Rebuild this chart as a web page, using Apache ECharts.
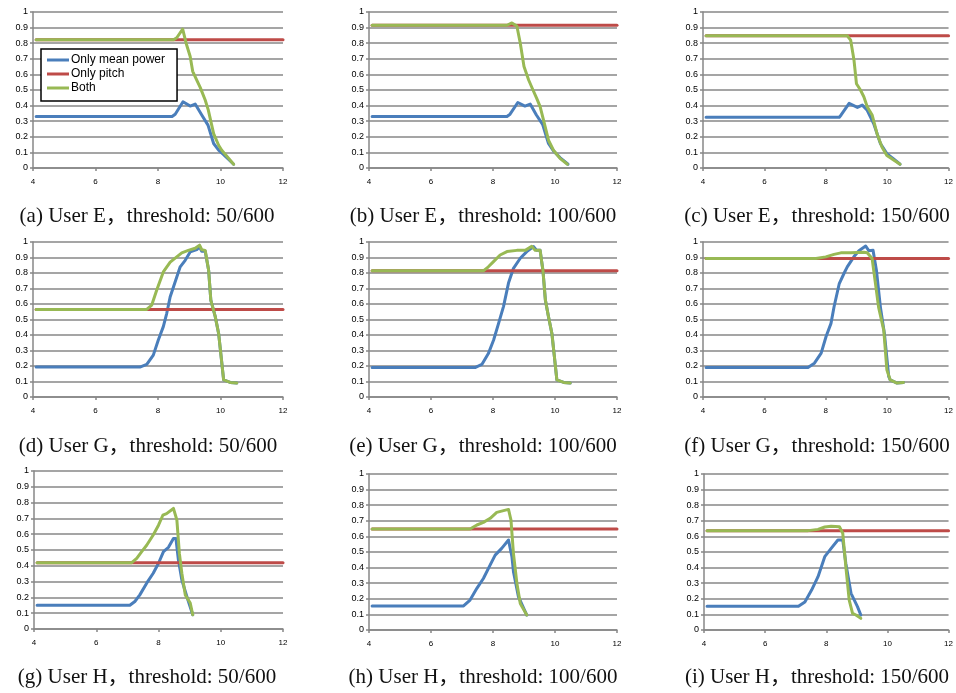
<!DOCTYPE html>
<html><head><meta charset="utf-8">
<script src="https://cdn.jsdelivr.net/npm/echarts@6/dist/echarts.min.js"></script>
<style>html,body{margin:0;padding:0;background:#fff}#c{width:956px;height:693px}</style>
</head><body><div id="c"></div>
<script>
const seriesNames = ['Only mean power', 'Only pitch', 'Both'];
const captions = [
  '(a) User E\uFF0Cthreshold: 50/600', '(b) User E\uFF0Cthreshold: 100/600', '(c) User E\uFF0Cthreshold: 150/600',
  '(d) User G\uFF0Cthreshold: 50/600', '(e) User G\uFF0Cthreshold: 100/600', '(f) User G\uFF0Cthreshold: 150/600',
  '(g) User H\uFF0Cthreshold: 50/600', '(h) User H\uFF0Cthreshold: 100/600', '(i) User H\uFF0Cthreshold: 150/600'
];
const xTicks = [4, 6, 8, 10, 12];

// (a) User E, 50/600
const aPower = [[4.1,0.33],[8.45,0.33],[8.55,0.345],[8.8,0.425],[9.03,0.397],[9.19,0.41],[9.4,0.34],[9.6,0.275],[9.78,0.157],[9.94,0.114],[10.1,0.085],[10.42,0.024]];
const aPitch = [[4.1,0.822],[12,0.822]];
const aBoth  = [[4.1,0.822],[8.5,0.822],[8.6,0.835],[8.79,0.89],[8.9,0.8],[9.03,0.715],[9.11,0.62],[9.24,0.564],[9.35,0.517],[9.51,0.436],[9.61,0.371],[9.78,0.22],[9.94,0.146],[10.04,0.114],[10.42,0.024]];
// (b) User E, 100/600
const bPower = [[4.1,0.33],[8.45,0.33],[8.55,0.345],[8.8,0.42],[9.03,0.397],[9.2,0.41],[9.4,0.34],[9.6,0.28],[9.79,0.157],[9.95,0.11],[10.17,0.065],[10.42,0.024]];
const bPitch = [[4.1,0.915],[12,0.915]];
const bBoth  = [[4.1,0.915],[8.45,0.915],[8.61,0.93],[8.77,0.91],[8.88,0.8],[9.0,0.65],[9.15,0.564],[9.29,0.5],[9.41,0.446],[9.52,0.393],[9.63,0.307],[9.79,0.178],[9.95,0.114],[10.17,0.06],[10.4,0.024]];
// (c) User E, 150/600
const cPower = [[4.1,0.325],[8.44,0.325],[8.5,0.34],[8.76,0.414],[9.03,0.388],[9.19,0.403],[9.35,0.37],[9.56,0.285],[9.78,0.157],[9.99,0.092],[10.2,0.06],[10.42,0.024]];
const cPitch = [[4.1,0.848],[12,0.848]];
const cBoth  = [[4.1,0.848],[8.7,0.848],[8.81,0.82],[8.92,0.69],[9.0,0.54],[9.13,0.5],[9.24,0.457],[9.35,0.393],[9.51,0.34],[9.67,0.22],[9.83,0.135],[9.99,0.08],[10.15,0.06],[10.42,0.024]];
// (d) User G, 50/600
const dPower = [[4.1,0.193],[7.42,0.193],[7.64,0.21],[7.85,0.27],[8.01,0.368],[8.17,0.454],[8.28,0.54],[8.39,0.647],[8.55,0.743],[8.71,0.84],[8.87,0.882],[9.03,0.936],[9.24,0.951],[9.33,0.968],[9.4,0.94],[9.51,0.94],[9.62,0.818],[9.69,0.625],[9.83,0.52],[9.94,0.41],[10.1,0.11],[10.31,0.094],[10.52,0.09]];
const dPitch = [[4.1,0.565],[12,0.565]];
const dBoth  = [[4.1,0.565],[7.64,0.565],[7.8,0.593],[7.96,0.69],[8.17,0.807],[8.39,0.87],[8.6,0.904],[8.76,0.93],[8.97,0.946],[9.19,0.96],[9.33,0.98],[9.4,0.95],[9.51,0.946],[9.62,0.818],[9.69,0.625],[9.83,0.52],[9.94,0.41],[10.1,0.11],[10.31,0.094],[10.52,0.09]];
// (e) User G, 100/600
const ePower = [[4.1,0.19],[7.42,0.19],[7.64,0.21],[7.85,0.28],[8.02,0.368],[8.18,0.475],[8.34,0.585],[8.5,0.735],[8.66,0.83],[8.88,0.895],[9.09,0.938],[9.31,0.97],[9.41,0.946],[9.52,0.946],[9.61,0.818],[9.69,0.625],[9.79,0.518],[9.9,0.41],[10.06,0.11],[10.28,0.094],[10.49,0.09]];
const ePitch = [[4.1,0.814],[12,0.814]];
const eBoth  = [[4.1,0.814],[7.69,0.814],[7.85,0.84],[8.0,0.87],[8.23,0.916],[8.45,0.938],[8.77,0.946],[9.04,0.946],[9.25,0.972],[9.36,0.946],[9.52,0.946],[9.61,0.818],[9.69,0.625],[9.79,0.518],[9.9,0.41],[10.06,0.11],[10.28,0.094],[10.49,0.09]];
// (f) User G, 150/600
const fPower = [[4.1,0.19],[7.42,0.19],[7.63,0.218],[7.85,0.283],[8.01,0.39],[8.17,0.475],[8.27,0.582],[8.44,0.732],[8.6,0.8],[8.7,0.84],[8.92,0.906],[9.08,0.944],[9.3,0.974],[9.4,0.944],[9.54,0.946],[9.65,0.818],[9.78,0.58],[9.91,0.41],[10.05,0.133],[10.1,0.11],[10.32,0.09],[10.53,0.094]];
const fPitch = [[4.1,0.893],[12,0.893]];
const fBoth  = [[4.1,0.893],[7.68,0.893],[8.0,0.904],[8.27,0.92],[8.49,0.93],[8.81,0.93],[9.24,0.934],[9.35,0.93],[9.51,0.893],[9.62,0.73],[9.72,0.58],[9.89,0.43],[9.99,0.176],[10.1,0.11],[10.32,0.09],[10.53,0.094]];
// (g) User H, 50/600
const gPower = [[4.1,0.15],[7.08,0.15],[7.24,0.174],[7.4,0.216],[7.62,0.29],[7.83,0.353],[8.0,0.416],[8.16,0.49],[8.32,0.517],[8.48,0.573],[8.56,0.573],[8.64,0.437],[8.75,0.31],[8.91,0.206],[9.1,0.09]];
const gPitch = [[4.1,0.42],[12,0.42]];
const gBoth  = [[4.1,0.42],[7.14,0.42],[7.3,0.447],[7.46,0.49],[7.62,0.53],[7.83,0.595],[8.0,0.657],[8.14,0.72],[8.26,0.73],[8.48,0.763],[8.59,0.69],[8.67,0.48],[8.75,0.353],[8.86,0.216],[9.02,0.164],[9.1,0.09]];
// (h) User H, 100/600
const hPower = [[4.1,0.154],[7.05,0.154],[7.26,0.192],[7.48,0.267],[7.69,0.33],[7.91,0.417],[8.07,0.48],[8.28,0.523],[8.5,0.577],[8.61,0.47],[8.66,0.374],[8.82,0.214],[9.09,0.096]];
const hPitch = [[4.1,0.647],[12,0.647]];
const hBoth  = [[4.1,0.647],[7.26,0.647],[7.48,0.673],[7.69,0.69],[7.91,0.716],[8.12,0.754],[8.34,0.765],[8.5,0.773],[8.58,0.705],[8.66,0.49],[8.77,0.3],[8.88,0.17],[9.09,0.096]];
// (i) User H, 150/600
const iPower = [[4.1,0.152],[7.09,0.152],[7.3,0.18],[7.52,0.256],[7.73,0.342],[7.95,0.47],[8.16,0.523],[8.38,0.577],[8.54,0.577],[8.64,0.427],[8.81,0.235],[9.02,0.15],[9.13,0.096]];
const iPitch = [[4.1,0.637],[12,0.637]];
const iBoth  = [[4.1,0.637],[7.41,0.637],[7.73,0.645],[7.95,0.66],[8.16,0.665],[8.43,0.662],[8.54,0.62],[8.64,0.406],[8.75,0.192],[8.86,0.107],[8.97,0.096],[9.13,0.075]];

const panels = [
  [aPower, aPitch, aBoth], [bPower, bPitch, bBoth], [cPower, cPitch, cBoth],
  [dPower, dPitch, dBoth], [ePower, ePitch, eBoth], [fPower, fPitch, fBoth],
  [gPower, gPitch, gBoth], [hPower, hPitch, hBoth], [iPower, iPitch, iBoth]
];

const colors = ['#4a7ebb', '#be4b48', '#98b954'];
const grids = [
  {left: 33, top: 12, width: 250, height: 156},
  {left: 369, top: 12, width: 248, height: 156},
  {left: 703, top: 12, width: 249, height: 156},
  {left: 33, top: 242, width: 250, height: 155},
  {left: 369, top: 242, width: 248, height: 155},
  {left: 703, top: 242, width: 249, height: 155},
  {left: 34, top: 471, width: 249, height: 158},
  {left: 369, top: 474, width: 248, height: 156},
  {left: 704, top: 474, width: 248, height: 156}
];
const capPos = [
  [147, 216], [483, 216], [817, 216],
  [148, 446], [483, 446], [817, 446],
  [147, 677], [483, 677], [817, 677]
];
const gray = '#878787';

const option = {
  backgroundColor: '#fff',
  animation: false,
  color: colors,
  title: captions.map((t, i) => ({
    text: t, left: capPos[i][0], top: capPos[i][1], textAlign: 'center', textVerticalAlign: 'middle',
    padding: 0,
    textStyle: {fontFamily: '"Liberation Serif", "Noto Sans CJK SC", serif', fontSize: 21, fontWeight: 'normal', color: '#111'}
  })),
  legend: {
    data: seriesNames, left: 41, top: 49, orient: 'vertical',
    backgroundColor: '#fff', borderColor: '#000', borderWidth: 1.5,
    padding: [5, 12, 7, 6], itemGap: 2, itemWidth: 22, itemHeight: 3, icon: 'rect',
    textStyle: {fontFamily: '"Liberation Sans", Arial, sans-serif', fontSize: 12, lineHeight: 12, color: '#000', padding: [0, 0, 0, -3]},
    z: 10
  },
  grid: grids,
  xAxis: grids.map((g, i) => ({
    type: 'value', gridIndex: i, min: xTicks[0], max: xTicks[xTicks.length - 1], interval: 2,
    axisLine: {lineStyle: {color: gray, width: 1.5}},
    axisTick: {show: true, length: 3, lineStyle: {color: gray, width: 1.5}},
    axisLabel: {fontSize: 8, color: '#000', margin: 10, fontFamily: '"Liberation Sans", Arial, sans-serif'},
    splitLine: {show: false}
  })),
  yAxis: grids.map((g, i) => ({
    type: 'value', gridIndex: i, min: 0, max: 1, interval: 0.1,
    axisLine: {show: true, lineStyle: {color: gray, width: 1.5}},
    axisTick: {show: true, length: 3, lineStyle: {color: gray, width: 1.5}},
    axisLabel: {fontSize: 9, color: '#000', margin: 5, fontFamily: '"Liberation Sans", Arial, sans-serif'},
    splitLine: {show: true, lineStyle: {color: gray, width: 1.5}}
  })),
  series: []
};
panels.forEach((p, i) => {
  p.forEach((d, k) => {
    option.series.push({
      name: seriesNames[k], type: 'line', xAxisIndex: i, yAxisIndex: i,
      data: d, showSymbol: false, symbol: 'none', smooth: false,
      lineStyle: {color: colors[k], width: 3, join: 'round', cap: 'round'},
      itemStyle: {color: colors[k]}, z: 2 + k
    });
  });
});
const chart = echarts.init(document.getElementById('c'), null, {renderer: 'canvas'});
chart.setOption(option);
</script></body></html>
